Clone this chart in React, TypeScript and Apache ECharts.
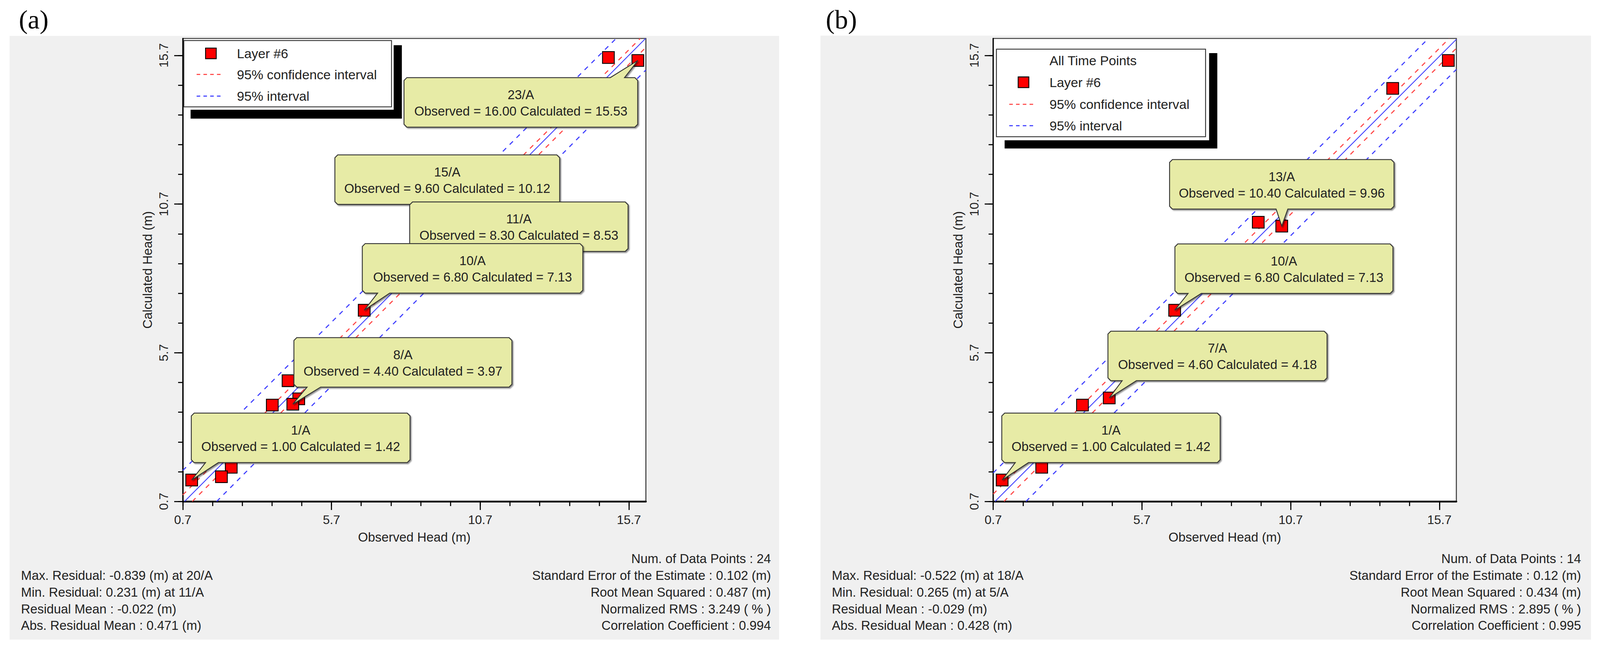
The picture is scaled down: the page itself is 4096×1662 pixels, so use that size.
import React, { useEffect, useRef } from "react";
import * as echarts from "echarts";

const W = 4096;
const H = 1662;
const S = 0.912;
const R = (v: number) => v * S;
const FONT = '"Liberation Sans", Arial, Helvetica, sans-serif';
const SERIF = '"Liberation Serif", "Times New Roman", serif';

// ---------------- data ----------------
const axisMin = 0.7;
const axisMax = 16.27;
const majorTickValues = [0.7, 5.7, 10.7, 15.7];
const minorTickValues = [0.7, 1.7, 2.7, 3.7, 4.7, 5.7, 6.7, 7.7, 8.7, 9.7, 10.7, 11.7, 12.7, 13.7, 14.7, 15.7];

// [observed, calculated]
const pointsA = [
  [1.0, 1.42], [2.33, 1.85], [2.0, 1.53], [3.71, 3.94], [4.24, 4.76], [4.6, 4.15],
  [4.4, 3.97], [6.8, 7.13], [8.3, 8.53], [9.6, 10.12], [15.01, 15.63], [16.0, 15.53],
];
const pointsB = [
  [1.0, 1.42], [2.33, 1.85], [3.7, 3.94], [4.6, 4.18], [6.8, 7.13], [9.61, 10.09],
  [10.4, 9.96], [14.13, 14.59], [16.0, 15.53],
];

const fitLineA = [[0.76, 0.7], [16.26, 16.27]];
const confUpperA = [[0.7, 0.92], [16.08, 16.27]];
const confLowerA = [[1.02, 0.7], [16.27, 15.97]];
const predUpperA = [[0.7, 1.74], [15.27, 16.27]];
const predLowerA = [[1.84, 0.7], [16.27, 15.21]];

const fitLineB = [[0.76, 0.7], [16.27, 16.24]];
const confUpperB = [[0.7, 0.95], [16.03, 16.27]];
const confLowerB = [[1.06, 0.7], [16.27, 15.94]];
const predUpperB = [[0.7, 1.66], [15.33, 16.27]];
const predLowerB = [[1.8, 0.7], [16.27, 15.23]];

const calloutsA = [
  { label: "23/A", obs: 16.0, calc: 15.53 },
  { label: "15/A", obs: 9.6, calc: 10.12 },
  { label: "11/A", obs: 8.3, calc: 8.53 },
  { label: "10/A", obs: 6.8, calc: 7.13 },
  { label: "8/A", obs: 4.4, calc: 3.97 },
  { label: "1/A", obs: 1.0, calc: 1.42 },
];
const calloutsB = [
  { label: "13/A", obs: 10.4, calc: 9.96 },
  { label: "10/A", obs: 6.8, calc: 7.13 },
  { label: "7/A", obs: 4.6, calc: 4.18 },
  { label: "1/A", obs: 1.0, calc: 1.42 },
];

const legendItemsA = ["Layer #6", "95% confidence interval", "95% interval"];
const legendItemsB = ["All Time Points", "Layer #6", "95% confidence interval", "95% interval"];

const statsLeftA = [
  "Max. Residual: -0.839 (m) at 20/A",
  "Min. Residual: 0.231 (m) at 11/A",
  "Residual Mean : -0.022 (m)",
  "Abs. Residual Mean : 0.471 (m)",
];
const statsRightA = [
  "Num. of Data Points : 24",
  "Standard Error of the Estimate : 0.102 (m)",
  "Root Mean Squared : 0.487 (m)",
  "Normalized RMS : 3.249 ( % )",
  "Correlation Coefficient : 0.994",
];
const statsLeftB = [
  "Max. Residual: -0.522 (m) at 18/A",
  "Min. Residual: 0.265 (m) at 5/A",
  "Residual Mean : -0.029 (m)",
  "Abs. Residual Mean : 0.428 (m)",
];
const statsRightB = [
  "Num. of Data Points : 14",
  "Standard Error of the Estimate : 0.12 (m)",
  "Root Mean Squared : 0.434 (m)",
  "Normalized RMS : 2.895 ( % )",
  "Correlation Coefficient : 0.995",
];

// ---------------- layout (reference pixels) ----------------
const boxLayoutA = [
  { l: 1134, r: 1790, t: 218, side: "top", b0: 1713, b1: 1753 },
  { l: 940, r: 1571, t: 435, side: "bottom", b0: 1200, b1: 1240 },
  { l: 1150, r: 1763, t: 567, side: "bottom", b0: 1168, b1: 1203 },
  { l: 1017, r: 1636, t: 684, side: "bottom", b0: 1060, b1: 1094 },
  { l: 825, r: 1437, t: 948, side: "bottom", b0: 862, b1: 900 },
  { l: 537, r: 1151, t: 1160, side: "bottom", b0: 577, b1: 613 },
];
const boxLayoutB = [
  { l: 3283, r: 3913, t: 448, side: "bottom", b0: 3582, b1: 3615 },
  { l: 3298, r: 3910, t: 685, side: "bottom", b0: 3335, b1: 3372 },
  { l: 3110, r: 3725, t: 930, side: "bottom", b0: 3150, b1: 3190 },
  { l: 2812, r: 3425, t: 1160, side: "bottom", b0: 2850, b1: 2887 },
];

const panels = [
  {
    gridLeft: 513, gray: [27, 101, 2187, 1796], title: "(a)", titleX: 53,
    legend: { l: 516, t: 114, r: 1099, b: 300, rows: [150, 209, 270], shL: 535, shT: 127, shR: 1128, shB: 333, gapR: 1105, gapB: 308 },
    legendItems: legendItemsA, legendHasHeader: false,
    statsLeftX: 59, statsRightX: 2164, statsLeft: statsLeftA, statsRight: statsRightA,
    callouts: calloutsA, boxes: boxLayoutA,
  },
  {
    gridLeft: 2788, gray: [2303, 100, 4466, 1796], title: "(b)", titleX: 2318,
    legend: { l: 2797, t: 138, r: 3384, b: 384, rows: [170, 231, 293, 353], shL: 2820, shT: 149, shR: 3417, shB: 417, gapR: 3394, gapB: 394 },
    legendItems: legendItemsB, legendHasHeader: true,
    statsLeftX: 2335, statsRightX: 4438, statsLeft: statsLeftB, statsRight: statsRightB,
    callouts: calloutsB, boxes: boxLayoutB,
  },
];

const GRID_TOP = 108;
const GRID_SIZE = 1300;
const BOX_H = 139;
const statsRowY = [1568, 1616, 1663, 1710, 1756];

const RED = "#ff4545";
const BLUE = "#3c3cff";
const SOLID_BLUE = "#4444ff";
const CALLOUT_FILL = "#e7eba6";
const TEXT = "#222";

function makeAxes(g: number, isX: boolean) {
  const major: any = {
    type: "value",
    gridIndex: g,
    min: axisMin,
    max: axisMax,
    position: isX ? "bottom" : "left",
    axisLine: { show: true, onZero: false, lineStyle: { color: "#000", width: isX ? R(5) : R(3.5) } },
    axisTick: { show: true, customValues: majorTickValues, length: R(24), lineStyle: { color: "#000", width: R(3) } },
    axisLabel: {
      show: true,
      customValues: majorTickValues,
      formatter: (v: number) => Number(v).toFixed(1),
      margin: isX ? R(34) : R(36),
      fontSize: R(35),
      color: TEXT,
      fontFamily: FONT,
      rotate: isX ? 0 : 90,
    },
    splitLine: { show: false },
    name: isX ? "Observed Head (m)" : "Calculated Head (m)",
    nameLocation: "middle",
    nameGap: isX ? R(82) : R(81),
    nameTextStyle: { fontSize: R(36), color: TEXT, fontFamily: FONT },
  };
  const minor: any = {
    type: "value",
    gridIndex: g,
    min: axisMin,
    max: axisMax,
    position: isX ? "bottom" : "left",
    axisLine: { show: false, onZero: false },
    axisTick: { show: true, customValues: minorTickValues, length: R(13), lineStyle: { color: "#000", width: R(3) } },
    axisLabel: { show: false },
    splitLine: { show: false },
  };
  return [major, minor];
}

function lineSeries(g: number, data: number[][], color: string, dashed: boolean) {
  return {
    type: "line",
    xAxisIndex: 2 * g,
    yAxisIndex: 2 * g,
    data,
    symbol: "none",
    silent: true,
    clip: true,
    z: 2,
    lineStyle: { color, width: dashed ? R(3) : R(2.5), type: dashed ? [R(13), R(14)] : "solid" },
  };
}

function buildOption() {
  const lineSets = [
    [fitLineA, confUpperA, confLowerA, predUpperA, predLowerA],
    [fitLineB, confUpperB, confLowerB, predUpperB, predLowerB],
  ];
  const pointSets = [pointsA, pointsB];
  const series: any[] = [];
  [0, 1].forEach((g) => {
    const [fit, cu, cl, pu, pl] = lineSets[g];
    series.push(lineSeries(g, pu, BLUE, true));
    series.push(lineSeries(g, pl, BLUE, true));
    series.push(lineSeries(g, cu, RED, true));
    series.push(lineSeries(g, cl, RED, true));
    series.push(lineSeries(g, fit, SOLID_BLUE, false));
    series.push({
      type: "scatter",
      xAxisIndex: 2 * g,
      yAxisIndex: 2 * g,
      data: pointSets[g],
      symbol: "rect",
      symbolSize: R(33),
      silent: true,
      z: 3,
      itemStyle: { color: "#ff0000", borderColor: "#000", borderWidth: R(2.5), opacity: 1 },
    });
  });
  return {
    animation: false,
    backgroundColor: "#ffffff",
    grid: panels.map((p) => ({
      left: R(p.gridLeft),
      top: R(GRID_TOP),
      width: R(GRID_SIZE),
      height: R(GRID_SIZE),
      show: true,
      backgroundColor: "#ffffff",
      borderColor: "#444",
      borderWidth: R(3),
    })),
    xAxis: [...makeAxes(0, true), ...makeAxes(1, true)],
    yAxis: [...makeAxes(0, false), ...makeAxes(1, false)],
    series,
  };
}

function txt(text: string, x: number, y: number, size: number, align: string, z: number, family = FONT, color = TEXT) {
  return {
    type: "text",
    z,
    silent: true,
    style: {
      text,
      x,
      y,
      fill: color,
      font: `${size}px ${family}`,
      textAlign: align,
      textVerticalAlign: "middle",
      align,
      verticalAlign: "middle",
    },
  };
}

function calloutPoints(b: any, tip: number[]) {
  const c = 8;
  const { l, r, t } = b;
  const bt = t + BOX_H;
  const P = (x: number, y: number) => [R(x), R(y)];
  if (b.side === "top") {
    return [
      P(l + c, t), P(b.b0, t), tip, P(b.b1, t), P(r - c, t), P(r, t + c), P(r, bt - c),
      P(r - c, bt), P(l + c, bt), P(l, bt - c), P(l, t + c),
    ];
  }
  return [
    P(l + c, t), P(r - c, t), P(r, t + c), P(r, bt - c), P(r - c, bt), P(b.b1, bt), tip,
    P(b.b0, bt), P(l + c, bt), P(l, bt - c), P(l, t + c),
  ];
}

function buildGraphic(chart: any) {
  const els: any[] = [];
  panels.forEach((p, g) => {
    const [x0, y0, x1, y1] = p.gray;
    els.push({
      type: "rect", z: -1, silent: true,
      shape: { x: R(x0), y: R(y0), width: R(x1 - x0), height: R(y1 - y0) },
      style: { fill: "#f0f0f0" },
    });
    els.push(txt(p.title, R(p.titleX), R(55), R(75), "left", 5, SERIF, "#000"));

    // legend
    const L = p.legend;
    els.push({ type: "rect", z: 30, silent: true, shape: { x: R(L.shL), y: R(L.shT), width: R(L.shR - L.shL), height: R(L.shB - L.shT) }, style: { fill: "#000" } });
    els.push({ type: "rect", z: 31, silent: true, shape: { x: R(L.l), y: R(L.t), width: R(L.gapR - L.l), height: R(L.gapB - L.t) }, style: { fill: "#fff" } });
    els.push({ type: "rect", z: 32, silent: true, shape: { x: R(L.l), y: R(L.t), width: R(L.r - L.l), height: R(L.b - L.t) }, style: { fill: "#fff", stroke: "#333", lineWidth: R(2.5) } });
    const textX = L.l + 149;
    p.legendItems.forEach((item, i) => {
      const y = L.rows[i];
      const kind = p.legendHasHeader ? i - 1 : i; // -1 header, 0 marker, 1 red, 2 blue
      if (kind === 0) {
        els.push({ type: "rect", z: 33, silent: true, shape: { x: R(L.l + 76 - 15), y: R(y - 15), width: R(30), height: R(30) }, style: { fill: "#ff0000", stroke: "#000", lineWidth: R(2.5) } });
      } else if (kind === 1 || kind === 2) {
        els.push({ type: "line", z: 33, silent: true, shape: { x1: R(L.l + 36), y1: R(y), x2: R(L.l + 110), y2: R(y) }, style: { stroke: kind === 1 ? RED : BLUE, lineWidth: R(3), lineDash: [R(10), R(9)] } });
      }
      els.push(txt(item, R(textX), R(y), R(37), "left", 33));
    });

    // callouts
    p.callouts.forEach((co, i) => {
      const b = p.boxes[i];
      const tip = chart.convertToPixel({ gridIndex: g }, [co.obs, co.calc]);
      const z = 40 + i * 2;
      els.push({
        type: "polygon", z, silent: true,
        shape: { points: calloutPoints(b, tip) },
        style: {
          fill: CALLOUT_FILL, stroke: "#333", lineWidth: R(2.5), lineJoin: "miter",
          shadowBlur: R(3), shadowOffsetX: R(3), shadowOffsetY: R(3), shadowColor: "rgba(0,0,0,0.45)",
        },
      });
      const cx = R((b.l + b.r) / 2);
      els.push(txt(co.label, cx, R(b.t + 48), R(36), "center", z + 1));
      els.push(txt(`Observed = ${co.obs.toFixed(2)} Calculated = ${co.calc.toFixed(2)}`, cx, R(b.t + 94), R(36), "center", z + 1));
    });

    // stats
    p.statsRight.forEach((s, i) => els.push(txt(s, R(p.statsRightX), R(statsRowY[i]), R(36), "right", 5)));
    p.statsLeft.forEach((s, i) => els.push(txt(s, R(p.statsLeftX), R(statsRowY[i + 1]), R(36), "left", 5)));
  });
  return els;
}

export default function App() {
  const ref = useRef<HTMLDivElement>(null);
  useEffect(() => {
    if (!ref.current) return;
    const chart = echarts.init(ref.current, null, { renderer: "svg", width: W, height: H });
    chart.setOption(buildOption() as any);
    chart.setOption({ graphic: { elements: buildGraphic(chart) } } as any);
    return () => chart.dispose();
  }, []);
  return (
    <div
      ref={ref}
      style={{ position: "fixed", left: 0, top: 0, width: W, height: H, background: "#fff" }}
    />
  );
}
